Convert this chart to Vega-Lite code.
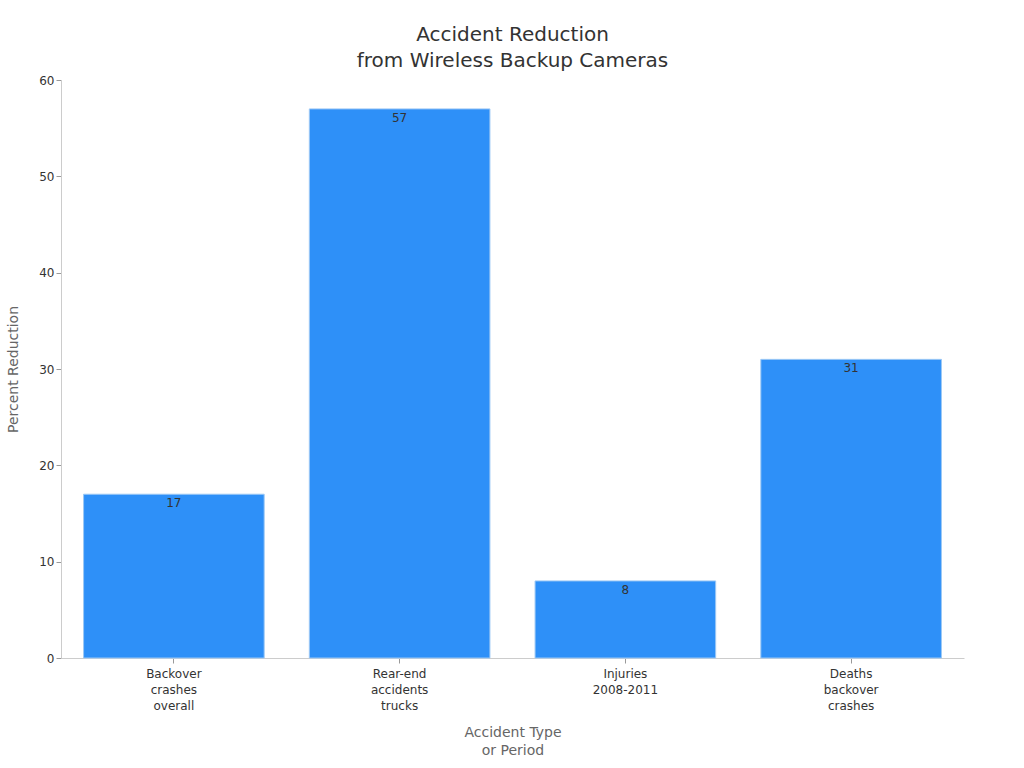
{
  "$schema": "https://vega.github.io/schema/vega-lite/v6.json",
  "autosize": "none",
  "padding": {"left": 61, "top": 80, "right": 60, "bottom": 110},
  "width": 903,
  "height": 578,
  "background": "white",
  "title": {
    "text": ["Accident Reduction", "from Wireless Backup Cameras"],
    "font": "DejaVu Sans",
    "fontSize": 20,
    "fontWeight": "normal",
    "color": "#333333",
    "lineHeight": 26,
    "offset": 3
  },
  "data": {
    "values": [
      {"category": "Backover crashes overall", "reduction": 17},
      {"category": "Rear-end accidents trucks", "reduction": 57},
      {"category": "Injuries 2008-2011", "reduction": 8},
      {"category": "Deaths backover crashes", "reduction": 31}
    ]
  },
  "config": {
    "view": {"stroke": null},
    "font": "DejaVu Sans",
    "axis": {
      "labelFont": "DejaVu Sans",
      "titleFont": "DejaVu Sans",
      "labelFontSize": 12,
      "labelColor": "#333333",
      "titleFontSize": 14,
      "titleFontWeight": "normal",
      "titleColor": "#666666",
      "domainColor": "#cccccc",
      "tickColor": "#999999",
      "grid": false
    }
  },
  "encoding": {
    "x": {
      "field": "category",
      "type": "nominal",
      "sort": null,
      "scale": {"paddingInner": 0.2, "paddingOuter": 0.1},
      "axis": {
        "labelAngle": 0,
        "labelExpr": "split(datum.label, ' ')",
        "labelLineHeight": 16,
        "labelPadding": 5,
        "title": ["Accident Type", "or Period"],
        "titlePadding": 14,
        "titleLineHeight": 18
      }
    },
    "y": {
      "field": "reduction",
      "type": "quantitative",
      "scale": {"domain": [0, 60]},
      "axis": {
        "title": "Percent Reduction",
        "tickCount": 6,
        "titlePadding": 18
      }
    }
  },
  "layer": [
    {
      "mark": {"type": "bar", "color": "#2e90f8", "stroke": "#9cc8f5", "strokeWidth": 1}
    },
    {
      "mark": {"type": "text", "baseline": "top", "dy": 4, "fontSize": 12, "color": "#333333"},
      "encoding": {"text": {"field": "reduction", "type": "quantitative"}}
    }
  ]
}
